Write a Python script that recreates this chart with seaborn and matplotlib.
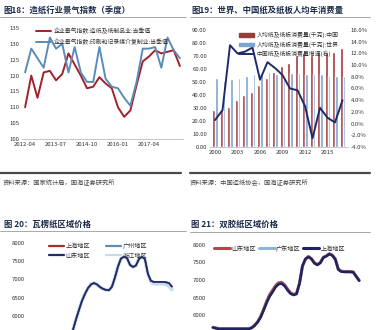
import numpy as np
import pandas as pd
import matplotlib
matplotlib.use("Agg")
import matplotlib.pyplot as plt
from matplotlib.lines import Line2D
from matplotlib.patches import Patch
import seaborn as sns

sns.set_style("white")
plt.rcParams['font.family'] = ['Noto Sans CJK SC', 'DejaVu Sans']
plt.rcParams['axes.unicode_minus'] = False

# ---------------- data ----------------
# Panel 1: quarterly prosperity index
p1_ticklabels = ["2012-04", "2013-07", "2014-10", "2016-01", "2017-04"]
p1_names = ["企业景气指数:造纸及纸制品业:当季值", "企业景气指数:印刷和记录媒介复制业:当季值"]
p1_paper = [110, 120, 113, 121, 121.5, 118.5, 120.5, 127, 123.5, 120, 116, 116.5, 119.5,
            117.5, 116, 110, 107, 109, 117, 124.5, 126, 128, 127, 127.5, 128, 123]
p1_print = [121, 128.5, 125.5, 122.5, 132, 128.5, 130, 121, 129, 121, 118, 118, 129,
            119, 116.5, 116, 113, 110.5, 118, 128.5, 128.5, 129, 122.5, 132, 128, 125.5]

# Panel 2: per-capita consumption
p2_years = list(range(2000, 2018))
p2_names = ["人均纸及纸板消费量(千克):中国", "人均纸及纸板消费量(千克):世界", "中国纸及纸板消费量增速(右)"]
p2_china = [28.5, 29.5, 31, 36, 40, 42, 48, 53, 58, 62, 65, 71, 72, 71, 72, 73, 73, 76]
p2_world = [53, 51, 52, 53, 55, 56, 57, 58, 56, 54, 57, 57, 56, 56, 56, 55, 55, 55]
p2_growth = [0.6, 2.3, 13.4, 12.0, 12.3, 13.0, 7.5, 10.5, 9.5, 8.3, 6.0, 5.7, 3.0, -2.5, 2.7, 1.0, 0.2, 4.0]

# Panel 3: corrugated paper regional prices
p3_names = ["上海地区", "广州地区", "山东地区", "浙江地区"]
p3_shandong = [5300, 5610, 5900, 6160, 6410, 6600, 6760, 6860, 6900, 6860, 6790, 6740, 6710, 6700,
               6800, 7050, 7350, 7570, 7620, 7590, 7400, 7340, 7380, 7560, 7620, 7560, 7150, 6960,
               6930, 6930, 6930, 6930, 6920, 6900, 6800]
p3_shanghai = [5300, 5610, 5900, 6160, 6410, 6600, 6760, 6860, 6900, 6860, 6790, 6740, 6710, 6700,
               6800, 7050, 7350, 7570, 7620, 7590, 7400, 7340, 7380, 7560, 7620, 7560, 7150, 6960,
               6930, 6930, 6930, 6930, 6920, 6900, 6800]
p3_guangzhou = [5300, 5610, 5900, 6160, 6410, 6600, 6760, 6860, 6900, 6860, 6790, 6740, 6710, 6700,
                6800, 7050, 7350, 7570, 7620, 7590, 7400, 7340, 7380, 7560, 7620, 7560, 7150, 6960,
                6930, 6930, 6930, 6930, 6930, 6900, 6810]
p3_zhejiang = [5300, 5610, 5900, 6160, 6410, 6600, 6760, 6860, 6900, 6860, 6790, 6740, 6710, 6700,
               6800, 7050, 7350, 7570, 7620, 7590, 7400, 7340, 7380, 7560, 7620, 7560, 7150, 6930,
               6880, 6880, 6880, 6880, 6860, 6820, 6720]

# Panel 4: offset paper regional prices
p4_names = ["山东地区", "广东地区", "上海地区"]
p4_shanghai = [5640, 5620, 5600, 5600, 5600, 5600, 5600, 5600, 5600, 5600, 5600, 5600, 5600, 5630,
               5700, 5800, 5940, 6140, 6350, 6530, 6660, 6800, 6880, 6900, 6830, 6710, 6610, 6570,
               6600, 6900, 7400, 7600, 7660, 7600, 7480, 7430, 7490, 7640, 7680, 7740, 7700, 7590,
               7300, 7240, 7230, 7230, 7230, 7220, 7100, 6980]
p4_shandong = [5650, 5630, 5610, 5610, 5610, 5610, 5610, 5610, 5610, 5610, 5610, 5610, 5610, 5640,
               5710, 5810, 5960, 6170, 6390, 6580, 6710, 6840, 6920, 6930, 6860, 6740, 6630, 6590,
               6610, 6910, 7400, 7600, 7670, 7610, 7490, 7440, 7500, 7650, 7690, 7750, 7710, 7600,
               7310, 7250, 7240, 7240, 7240, 7230, 7110, 6990]
p4_guangdong = [5640, 5620, 5600, 5600, 5600, 5600, 5600, 5600, 5600, 5600, 5600, 5600, 5600, 5630,
                5700, 5800, 5940, 6140, 6350, 6530, 6660, 6800, 6880, 6900, 6830, 6710, 6610, 6570,
                6600, 6900, 7400, 7600, 7660, 7600, 7480, 7430, 7490, 7640, 7680, 7740, 7700, 7590,
                7300, 7240, 7230, 7230, 7230, 7220, 7100, 6980]
price_ticks = [6000, 6500, 7000, 7500, 8000]

# ---------------- figure ----------------
W, H = 383, 330
fig = plt.figure(figsize=(W / 100, H / 100), dpi=100)
fig.patch.set_facecolor("white")


def ax_px(l, t, r, b):
    return fig.add_axes([l / W, 1 - b / H, (r - l) / W, (b - t) / H])


def hline(x0, x1, y, color, lw):
    fig.add_artist(Line2D([x0 / W, x1 / W], [1 - y / H, 1 - y / H], color=color, lw=lw,
                          transform=fig.transFigure))


def ftext(x, y, s, **kw):
    fig.text(x / W, 1 - y / H, s, va="center", ha="left", **kw)


TC = "#333333"
TS = 4.3

def style_ax(ax, bottom=True):
    for s in ["top", "right", "left"]:
        ax.spines[s].set_visible(False)
    ax.spines["bottom"].set_visible(bottom)
    ax.spines["bottom"].set_color("#bdbdbd")
    ax.spines["bottom"].set_linewidth(0.6)
    ax.tick_params(length=0, labelsize=TS, colors=TC, pad=2)
    ax.set_xlabel("")
    ax.set_ylabel("")
    ax.set_facecolor("none")


# titles and separators
title_kw = dict(fontsize=6, fontweight="bold", color="#1c2a4a")
ftext(3, 10, "图18：造纸行业景气指数（季度）", **title_kw)
ftext(191, 10, "图19：世界、中国纸及纸板人均年消费量", **title_kw)
ftext(4, 224, "图 20：瓦楞纸区域价格", **title_kw)
ftext(191, 224, "图 21：双胶纸区域价格", **title_kw)
hline(0, 186, 17, "#9a9a9a", 0.6)
hline(190, 370, 17, "#9a9a9a", 0.6)
hline(0, 186, 231, "#9a9a9a", 0.6)
hline(190, 370, 232, "#9a9a9a", 0.6)
hline(0, 181, 173, "#4a4a4a", 1.6)
hline(190, 370, 173, "#4a4a4a", 1.6)
src_kw = dict(fontsize=4.5, color="#444444", style="italic")
ftext(3, 183, "资料来源：国家统计局，国海证券研究所", **src_kw)
ftext(190, 183, "资料来源：中国造纸协会，国海证券研究所", **src_kw)

# ---------------- panel 1 ----------------
ax1 = ax_px(22, 21.7, 183, 139)
n1 = len(p1_paper)
df1 = pd.DataFrame({
    "q": list(range(n1)) * 2,
    "v": p1_paper + p1_print,
    "s": [p1_names[0]] * n1 + [p1_names[1]] * n1,
})
sns.lineplot(data=df1, x="q", y="v", hue="s", palette=["#a3212b", "#5b8cb8"],
             linewidth=1.4, ax=ax1, legend=False)
ax1.set_xlim(-0.5, n1 - 0.5)
ax1.set_ylim(100, 137)
ax1.set_yticks(range(100, 136, 5))
ax1.set_xticks([0, 5, 10, 15, 20])
ax1.set_xticklabels(p1_ticklabels)
style_ax(ax1)
h1 = [Line2D([], [], color="#a3212b", lw=1.4), Line2D([], [], color="#5b8cb8", lw=1.4)]
ax1.legend(h1, p1_names, loc="upper left", bbox_to_anchor=(33 / W, 1 - 25 / H),
           bbox_transform=fig.transFigure, frameon=False, fontsize=4.2, handlelength=2.6,
           handletextpad=0.4, labelspacing=0.8, borderpad=0, labelcolor=TC)

# ---------------- panel 2 ----------------
ax2 = ax_px(209.75, 30, 347.75, 147)
n2 = len(p2_years)
df2 = pd.DataFrame({
    "year": [str(y) for y in p2_years] * 2,
    "v": p2_china + p2_world,
    "s": [p2_names[0]] * n2 + [p2_names[1]] * n2,
})
sns.barplot(data=df2, x="year", y="v", hue="s", palette=["#a5353a", "#7ca4d0"],
            width=0.72, ax=ax2, legend=False, saturation=1)
ax2.set_xlim(-0.7, n2 - 0.3)
ax2.set_ylim(0, 90)
ax2.set_yticks(range(0, 91, 10))
ax2.set_yticklabels([f"{v:.2f}" for v in range(0, 91, 10)])
ax2.set_xticks(range(0, n2, 3))
ax2.set_xticklabels([str(p2_years[i]) for i in range(0, n2, 3)])
style_ax(ax2)
ax2b = ax2.twinx()
df2b = pd.DataFrame({"i": list(range(n2)), "g": p2_growth})
sns.lineplot(data=df2b, x="i", y="g", color="#1f2a6b", linewidth=1.4, ax=ax2b)
ax2b.set_ylim(-4, 16)
ax2b.set_yticks(range(-4, 17, 2))
ax2b.set_yticklabels([f"{v:.1f}%" for v in range(-4, 17, 2)])
style_ax(ax2b, bottom=False)
h2 = [Patch(color="#a5353a"), Patch(color="#7ca4d0"), Line2D([], [], color="#1f2a6b", lw=1.4)]
ax2b.legend(h2, p2_names, loc="upper left", bbox_to_anchor=(236 / W, 1 - 29 / H),
            bbox_transform=fig.transFigure, frameon=False, fontsize=4.2, handlelength=2.6,
            handleheight=0.5, handletextpad=0.4, labelspacing=0.55, borderpad=0, labelcolor=TC)

# ---------------- panel 3 ----------------
ax3 = ax_px(28, 237.5, 180, 399.5)
n3 = len(p3_shandong)
df3 = pd.DataFrame({
    "i": list(range(n3)) * 4,
    "v": p3_zhejiang + p3_shanghai + p3_guangzhou + p3_shandong,
    "s": [p3_names[3]] * n3 + [p3_names[0]] * n3 + [p3_names[1]] * n3 + [p3_names[2]] * n3,
})
pal3 = {p3_names[0]: "#a3302c", p3_names[1]: "#5f8bb5", p3_names[2]: "#1f2a6b", p3_names[3]: "#c9dcef"}
for name, lw in [(p3_names[3], 2.6), (p3_names[0], 1.2), (p3_names[1], 1.2), (p3_names[2], 1.2)]:
    sns.lineplot(data=df3[df3.s == name], x="i", y="v", color=pal3[name], linewidth=lw, ax=ax3)
ax3.set_xlim(-14, 36.7)
ax3.set_ylim(3700, 8150)
ax3.set_yticks(price_ticks)
ax3.set_xticks([])
style_ax(ax3, bottom=False)
h3 = [Line2D([], [], color=pal3[n], lw=1.6) for n in [p3_names[0], p3_names[1], p3_names[2], p3_names[3]]]
ax3.legend([h3[0], h3[2], h3[1], h3[3]], [p3_names[0], p3_names[2], p3_names[1], p3_names[3]],
           ncol=2, loc="upper left", bbox_to_anchor=(46 / W, 1 - 239 / H),
           bbox_transform=fig.transFigure, frameon=False, fontsize=4.4, handlelength=2.4,
           handletextpad=0.3, labelspacing=0.25, columnspacing=2.6, borderpad=0, labelcolor=TC)

# ---------------- panel 4 ----------------
ax4 = ax_px(209, 239.75, 372, 395.5)
n4 = len(p4_shanghai)
df4 = pd.DataFrame({
    "i": list(range(n4)) * 3,
    "v": p4_shandong + p4_guangdong + p4_shanghai,
    "s": [p4_names[0]] * n4 + [p4_names[1]] * n4 + [p4_names[2]] * n4,
})
pal4 = {p4_names[0]: "#b04848", p4_names[1]: "#8fb4d8", p4_names[2]: "#1f2260"}
for name, lw in [(p4_names[0], 2.2), (p4_names[1], 1.6), (p4_names[2], 1.8)]:
    sns.lineplot(data=df4[df4.s == name], x="i", y="v", color=pal4[name], linewidth=lw, ax=ax4)
ax4.set_xlim(-1.33, 53.3)
ax4.set_ylim(3700, 8150)
ax4.set_yticks(price_ticks)
ax4.set_xticks([])
style_ax(ax4, bottom=False)
h4 = [Line2D([], [], color=pal4[n], lw=2.2) for n in p4_names]
ax4.legend(h4, p4_names, ncol=3, loc="upper left", bbox_to_anchor=(211 / W, 1 - 241.5 / H),
           bbox_transform=fig.transFigure, frameon=False, fontsize=4.4, handlelength=2.6,
           handletextpad=0.2, columnspacing=0.5, borderpad=0, labelcolor=TC)

fig.savefig("out.png", dpi=100, facecolor="white")
